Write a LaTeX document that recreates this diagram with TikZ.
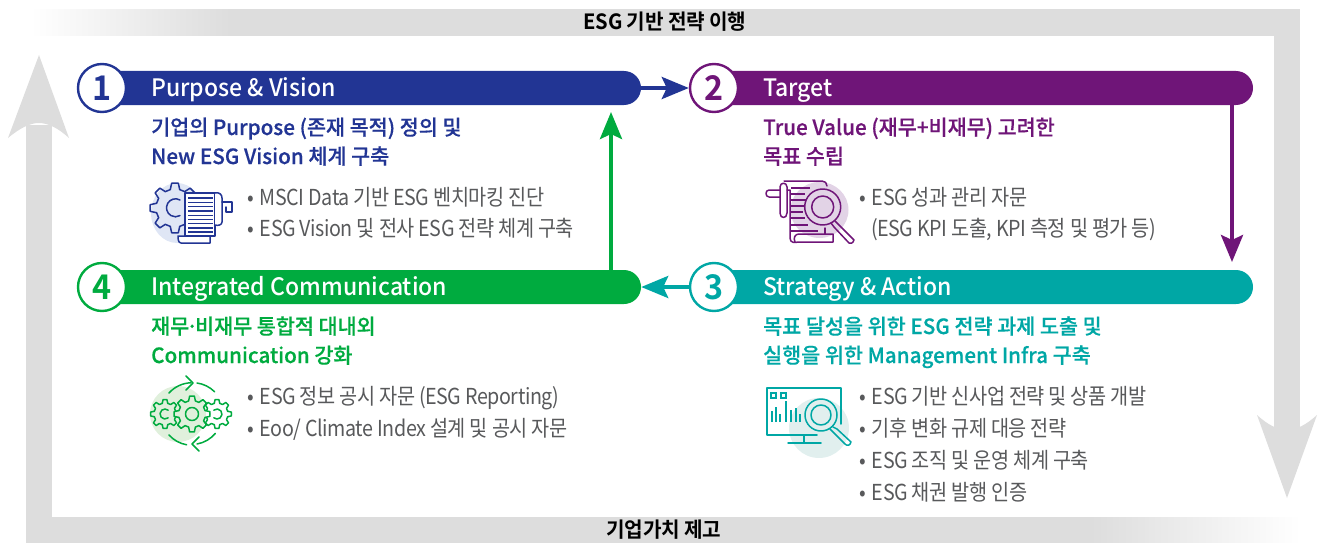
\documentclass[tikz,border=0pt]{standalone}
\usepackage{fontspec}
\setmainfont{Noto Sans CJK KR}
\newfontfamily\hdfont[FakeStretch=0.96]{Noto Sans CJK KR Medium}
\newfontfamily\subfont[FakeStretch=0.985,FakeBold=0.4]{Noto Sans CJK KR Medium}
\newfontfamily\numfont[FakeStretch=0.95]{Noto Sans CJK KR Bold}
\newfontfamily\bandfont[FakeStretch=0.96,LetterSpace=-1]{Noto Sans CJK KR Bold}
\newfontfamily\bodyfont[FakeStretch=0.895,LetterSpace=-2]{Noto Sans CJK KR}
\usetikzlibrary{arrows.meta}
\definecolor{cblue}{HTML}{223594}
\definecolor{cpurple}{HTML}{6F1578}
\definecolor{cteal}{HTML}{00A7A5}
\definecolor{cgreen}{HTML}{00AB3F}
\definecolor{cband}{HTML}{DDDDDD}
\definecolor{cbody}{HTML}{58595B}
\definecolor{lblue}{HTML}{DFE6F5}
\definecolor{lpurple}{HTML}{E2D3E6}
\definecolor{lteal}{HTML}{E1EFEE}
\definecolor{lgreen}{HTML}{E0F0DC}
\tikzset{
 bar/.style={fill=#1,rounded corners=17pt,minimum width=540pt,minimum height=34pt,inner sep=0pt},
 numc/.style={circle,draw=#1,fill=white,line width=2.4pt,minimum size=48pt,inner sep=0pt,text=#1,font=\numfont\fontsize{34}{34}\selectfont},
 bartext/.style={anchor=base west,inner sep=0pt,text=white,font=\hdfont\fontsize{24}{24}\selectfont},
 subtext/.style={anchor=base west,inner sep=0pt,text=#1,font=\subfont\fontsize{21}{21}\selectfont},
 bodytext/.style={anchor=base west,inner sep=0pt,text=cbody,font=\bodyfont\fontsize{22}{22}\selectfont},
 bandtext/.style={inner sep=0pt,text=black,font=\bandfont\fontsize{21}{21}\selectfont},
 flow/.style={line width=#1,-{Stealth[length=27pt,width=22pt,inset=5pt]}},
 icon/.style={line width=1.5pt,line join=round,line cap=round},
}
\newcommand{\bul}{•\kern6pt}
\newcommand{\gearp}[3]{% ro, ri, teeth
 (0:#1) \foreach \k in {1,...,#3}{
  -- ({(\k-1)*360/#3+0.17*360/#3}:#1) -- ({(\k-1)*360/#3+0.32*360/#3}:#2) -- ({(\k-1)*360/#3+0.68*360/#3}:#2) -- ({(\k-1)*360/#3+0.83*360/#3}:#1)
 } -- cycle}
\begin{document}
\begin{tikzpicture}[x=1pt,y=1pt,yscale=-1]
\useasboundingbox (0,0) rectangle (1318,543);
% bands
\fill[cband] (230,9) rectangle (1300,36);
\foreach \i in {0,...,99}{
 \pgfmathsetmacro{\pc}{\i}
 \fill[cband!\pc!white] ({30+2*\i},9) rectangle ({30+2*\i+2.5},36);
 \pgfmathsetmacro{\qc}{100-\i}
 \fill[cband!\qc!white] ({1090+2.1*\i},517) rectangle ({1090+2.1*\i+2.6},543);
}
\fill[cband] (1274,9) rectangle (1300,430);
\fill[cband] (26,517) rectangle (1090,543);
\fill[cband] (26,125) rectangle (52,543);
\fill[cband] (39,55) -- (69,138) .. controls (58,128) and (48,123) .. (39,123) .. controls (30,123) and (20,128) .. (8,138) -- cycle;
\fill[cband] (1287,498) -- (1317,415) .. controls (1306,425) and (1296,430) .. (1287,430) .. controls (1278,430) and (1268,425) .. (1257,415) -- cycle;
\node[bandtext] (toplabel) at (665,22) {ESG 기반 전략 이행};
\node[bandtext] (botlabel) at (664,530) {기업가치 제고};
% bars
\node[bar=cblue] (bar1) at (371,88) {};
\node[bar=cpurple] (bar2) at (983,88) {};
\node[bar=cteal] (bar3) at (983,287) {};
\node[bar=cgreen] (bar4) at (371,287) {};
% connector ends
\coordinate (p2s) at (1232,105);
\coordinate (p3n) at (1232,262);
\coordinate (g4n) at (611,270);
\coordinate (g1s) at (611,112);
\node[numc=cblue] (c1) at (102,88) {1};
\node[numc=cpurple] (c2) at (714,88) {2};
\node[numc=cteal] (c3) at (714,287) {3};
\node[numc=cgreen] (c4) at (102,287) {4};
\draw[flow=4pt,draw=cblue,fill=cblue] (bar1.east) -- (c2.west);
\draw[flow=4pt,draw=cteal,fill=cteal] (c3.west) -- (bar4.east);
\draw[flow=4pt,draw=cpurple,fill=cpurple] (p2s) -- (p3n);
\draw[flow=4pt,draw=cgreen,fill=cgreen] (g4n) -- (g1s);
% titles
\node[bartext] (t1) at (151,96) {Purpose \& Vision};
\node[bartext] (t2) at (763,96) {Target};
\node[bartext] (t3) at (763,295) {Strategy \& Action};
\node[bartext] (t4) at (151,295) {Integrated Communication};
% sub
\node[subtext=cblue] (s1a) at (151,135) {기업의 Purpose (존재 목적) 정의 및};
\node[subtext=cblue] (s1b) at (151,164) {New ESG Vision 체계 구축};
\node[subtext=cpurple] (s2a) at (763,135) {True Value (재무+비재무) 고려한};
\node[subtext=cpurple] (s2b) at (763,164) {목표 수립};
\node[subtext=cteal] (s3a) at (763,334) {목표 달성을 위한 ESG 전략 과제 도출 및};
\node[subtext=cteal] (s3b) at (763,363) {실행을 위한 Management Infra 구축};
\node[subtext=cgreen] (s4a) at (151,334) {재무\kern-3pt·\kern-3pt비재무 통합적 대내외};
\node[subtext=cgreen] (s4b) at (151,363) {Communication 강화};
% body
\node[bodytext] (b1a) at (247,205) {\bul MSCI Data 기반 ESG 벤치마킹 진단};
\node[bodytext] (b1b) at (247,236) {\bul ESG Vision 및 전사 ESG 전략 체계 구축};
\node[bodytext] (b2a) at (859,205) {\bul ESG 성과 관리 자문};
\node[bodytext] (b2b) at (871,236) {(ESG KPI 도출, KPI 측정 및 평가 등)};
\node[bodytext] (b3a) at (859,404) {\bul ESG 기반 신사업 전략 및 상품 개발};
\node[bodytext] (b3b) at (859,436) {\bul 기후 변화 규제 대응 전략};
\node[bodytext] (b3c) at (859,468) {\bul ESG 조직 및 운영 체계 구축};
\node[bodytext] (b3d) at (859,500) {\bul ESG 채권 발행 인증};
\node[bodytext] (b4a) at (247,404) {\bul ESG 정보 공시 자문 (ESG Reporting)};
\node[bodytext] (b4b) at (247,436) {\bul Eoo/ Climate Index 설계 및 공시 자문};
% icon 1
\fill[lblue] (177,213) ellipse [x radius=26,y radius=30];
\begin{scope}[shift={(175,208)}]
\draw[icon,cblue] \gearp{25}{19}{8};
\end{scope}
\draw[icon,cblue] (180,200) arc[start angle=-60,end angle=-300,radius=9];
\draw[icon,cblue,fill=white] (185,236) -- (185,193) -- (215,193) -- (215,236) -- cycle;
\draw[icon,cblue,fill=white] (215,193) .. controls (220,192) and (222,195) .. (222,198) -- (222,222) .. controls (222,225) and (218,226) .. (215,225);
\draw[icon,cblue] (222,202) -- (232,202) -- (232,212) -- (226,212) -- (226,207);
\draw[icon,cblue,fill=white] (178,236) -- (210,236) -- (210,243) -- (181,243) .. controls (178,243) and (178,238) .. (178,236) -- cycle;
\foreach \yy in {198,202.3,206.6,210.9,215.2,219.5,223.8,228.1,232}{\draw[cblue,line width=1.3pt] (188,\yy) -- (213,\yy);}
% icon 2
\fill[lpurple] (819.5,210) ellipse [x radius=29,y radius=28];
\draw[icon,cpurple] (780,190) -- (769,190) .. controls (765,190) and (765,197) .. (769,197) -- (780,197);
\draw[icon,cpurple] (780,187) .. controls (780,182) and (787,182) .. (787,187) -- (787,213) .. controls (787,219) and (780,219) .. (780,213) -- cycle;
\draw[icon,cpurple] (784,181) -- (822,181) .. controls (825,181) and (827,183) .. (827,186);
\draw[icon,cpurple] (787,190) -- (790,190) -- (790,238) .. controls (790,243) and (795,243) .. (798,242) -- (833,242) -- (833,234) -- (799,234) .. controls (795,234) and (793,238) .. (795,242);
\draw[icon,cpurple] (825,228) -- (825,234);
\foreach \yy/\xe in {188/810,194/805,200/806,206/804,212/803,218/805,225/808,231/818}{\draw[cpurple,line width=1.3pt] (791,\yy) -- (\xe,\yy);}
\draw[icon,cpurple] (822.7,207) circle [radius=18];
\draw[icon,cpurple] (822.7,207) circle [radius=11];
\draw[icon,cpurple] (835,221) -- (839,225) -- (854,240) .. controls (853,243) and (851,244) .. (849,243) -- (834,227) -- (831,223);
% icon 3
\fill[lteal] (819,428) circle [radius=30];
\draw[icon,cteal] (841,424) -- (841,388) -- (767,388) -- (767,435) -- (817,435);
\draw[icon,cteal] (804,435) -- (804,443);
\draw[icon,cteal] (788,443) -- (821,443);
\draw[cteal,line width=1.4pt] (771,393) rectangle (776,398) (781,393) rectangle (786,398);
\foreach \xx/\yt in {772/411,776/407,780/414,786/401,791/410,796/408,800/414}{\draw[cteal,line width=1.4pt] (\xx,422) -- (\xx,\yt);}
\draw[icon,cteal] (821,415) circle [radius=16];
\draw[icon,cteal] (821,415) circle [radius=10];
\draw[icon,cteal] (833,427) -- (837,429) -- (851,442) .. controls (850,446) and (847,446) .. (845,444) -- (832,431) -- (830,429);
% icon 4
\fill[lgreen] (178,414) circle [radius=28];
\begin{scope}[shift={(165,414)}]
\draw[icon,cgreen] \gearp{14.5}{11}{8};
\end{scope}
\begin{scope}[shift={(217,414)}]
\draw[icon,cgreen] \gearp{14.5}{11}{8};
\end{scope}
\begin{scope}[shift={(192,414)}]
\fill[white] \gearp{18}{13.5}{8};
\begin{scope}
\clip \gearp{18}{13.5}{8};
\fill[lgreen] (-14,0) circle [radius=28];
\end{scope}
\draw[icon,cgreen] \gearp{18}{13.5}{8};
\end{scope}
\draw[icon,cgreen] (192,414) circle [radius=6.5];
\draw[icon,cgreen] (165,414) ++(50:5) arc[start angle=50,end angle=310,radius=5];
\draw[icon,cgreen] (217,414) ++(-130:5) arc[start angle=-130,end angle=130,radius=5];
\draw[icon,cgreen] (169,393) arc[start angle=-138,end angle=-92,radius=31];
\draw[icon,cgreen] (186,376) -- (193,383) -- (186,390);
\draw[icon,cgreen] (197,383) arc[start angle=-82,end angle=-45,radius=31];
\draw[icon,cgreen] (169,435) arc[start angle=138,end angle=100,radius=31];
\draw[icon,cgreen] (199,437) -- (192,444) -- (199,451);
\draw[icon,cgreen] (197,444) arc[start angle=80,end angle=40,radius=31];
\end{tikzpicture}
\end{document}
